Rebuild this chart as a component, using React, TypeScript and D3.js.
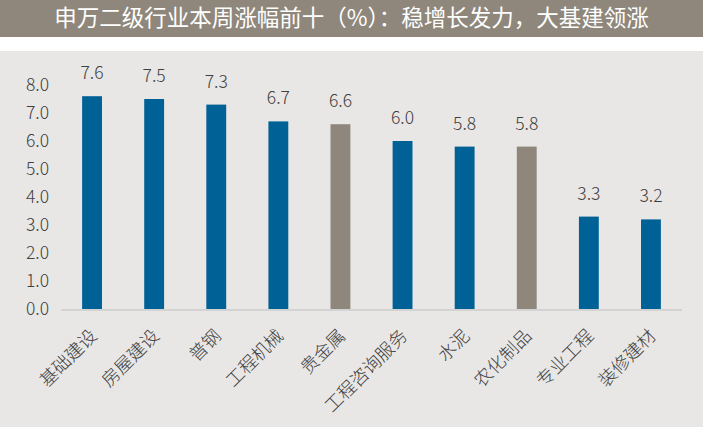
import React from "react";
import * as d3 from "d3";

const categories = ["基础建设", "房屋建设", "普钢", "工程机械", "贵金属", "工程咨询服务", "水泥", "农化制品", "专业工程", "装修建材"];
const values = [7.6, 7.5, 7.3, 6.7, 6.6, 6.0, 5.8, 5.8, 3.3, 3.2];
const highlight = [false, false, false, false, true, false, false, true, false, false];
const yTicks = [0, 1, 2, 3, 4, 5, 6, 7, 8];
const title = "申万二级行业本周涨幅前十（%）：稳增长发力，大基建领涨";

const W = 703;
const H = 427;
const FONT = "'Noto Sans CJK SC', 'Noto Sans', sans-serif";

export default function App() {
  const x = d3.scaleBand<string>().domain(categories).range([61, 682]).paddingInner(0.68).paddingOuter(0.34);
  const y = d3.scaleLinear().domain([0, 8]).range([309, 85]);
  const bw = x.bandwidth();
  const y0 = y(0);

  return (
    <svg width={W} height={H} style={{ position: "absolute", left: 0, top: 0 }} fontFamily={FONT}>
      <rect x={0} y={0} width={W} height={H} fill="#ffffff" />
      <rect x={0} y={0} width={W} height={37} fill="#8f877c" />
      <text x={W / 2} y={26} textAnchor="middle" fill="#ffffff" fontSize={22.5} fontWeight={400}>
        {title}
      </text>
      <rect x={0} y={51} width={W} height={H - 51} fill="#e8e7e5" />

      {yTicks.map((t) => (
        <text key={t} x={49} y={y(t)} dy="0.35em" textAnchor="end" fill="#404040" fontSize={17.5} fontWeight={300}>
          {d3.format(".1f")(t)}
        </text>
      ))}

      <line x1={61} x2={682} y1={y0 + 1} y2={y0 + 1} stroke="#d3d3d3" strokeWidth={2} />

      {categories.map((c, i) => {
        const bx = x(c)!;
        const cx = bx + bw / 2;
        const v = values[i];
        return (
          <g key={c}>
            <rect x={bx} y={y(v)} width={bw} height={y0 - y(v)} fill={highlight[i] ? "#8f877c" : "#006196"} />
            <text x={cx} y={y(v) - 17} textAnchor="middle" fill="#404040" fontSize={17.5} fontWeight={300}>
              {d3.format(".1f")(v)}
            </text>
            <text
              transform={`translate(${cx + 6},${y0 + 28}) rotate(-45)`}
              textAnchor="end"
              fill="#404040"
              fontSize={18}
              fontWeight={300}
            >
              {c}
            </text>
          </g>
        );
      })}
    </svg>
  );
}
